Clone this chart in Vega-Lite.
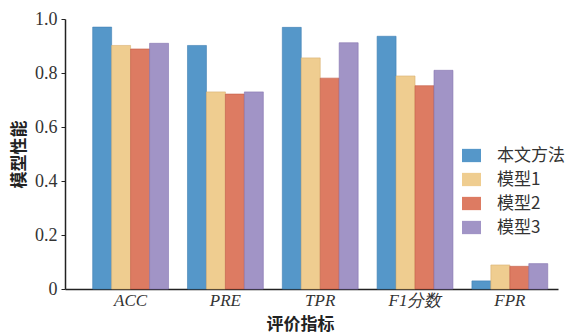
{
  "$schema": "https://vega.github.io/schema/vega-lite/v6.json",
  "width": 493,
  "height": 270,
  "autosize": {"type": "none"},
  "padding": {"left": 65, "top": 19, "right": 13, "bottom": 46},
  "background": "white",
  "config": {"view": {"stroke": null}},
  "data": {
    "values": [
      {"metric": "ACC", "model": "本文方法", "value": 0.970},
      {"metric": "ACC", "model": "模型1", "value": 0.902},
      {"metric": "ACC", "model": "模型2", "value": 0.889},
      {"metric": "ACC", "model": "模型3", "value": 0.910},
      {"metric": "PRE", "model": "本文方法", "value": 0.902},
      {"metric": "PRE", "model": "模型1", "value": 0.730},
      {"metric": "PRE", "model": "模型2", "value": 0.722},
      {"metric": "PRE", "model": "模型3", "value": 0.730},
      {"metric": "TPR", "model": "本文方法", "value": 0.969},
      {"metric": "TPR", "model": "模型1", "value": 0.856},
      {"metric": "TPR", "model": "模型2", "value": 0.781},
      {"metric": "TPR", "model": "模型3", "value": 0.912},
      {"metric": "F1分数", "model": "本文方法", "value": 0.936},
      {"metric": "F1分数", "model": "模型1", "value": 0.789},
      {"metric": "F1分数", "model": "模型2", "value": 0.753},
      {"metric": "F1分数", "model": "模型3", "value": 0.810},
      {"metric": "FPR", "model": "本文方法", "value": 0.030},
      {"metric": "FPR", "model": "模型1", "value": 0.089},
      {"metric": "FPR", "model": "模型2", "value": 0.084},
      {"metric": "FPR", "model": "模型3", "value": 0.094}
    ]
  },
  "mark": {"type": "bar", "strokeWidth": 0.6},
  "encoding": {
    "x": {
      "field": "metric",
      "type": "nominal",
      "sort": ["ACC", "PRE", "TPR", "F1分数", "FPR"],
      "scale": {"paddingInner": 0.2, "paddingOuter": 0.2, "align": 0.73},
      "axis": {
        "title": "评价指标",
        "titleFont": "Noto Sans CJK SC",
        "titleFontWeight": "bold",
        "titleFontSize": 17,
        "titleColor": "#222",
        "titleBaseline": "top",
        "titleY": 27,
        "titleX": 235,
        "labelAngle": 0,
        "labelFont": "Liberation Serif",
        "labelFontStyle": "italic",
        "labelFontSize": 17,
        "labelColor": "#333",
        "labelPadding": 3,
        "ticks": false,
        "domainColor": "#222",
        "domainWidth": 1.5
      }
    },
    "xOffset": {
      "field": "model",
      "type": "nominal",
      "scale": {"paddingInner": 0, "paddingOuter": 0}
    },
    "y": {
      "field": "value",
      "type": "quantitative",
      "scale": {"domain": [0, 1], "nice": false},
      "axis": {
        "title": "模型性能",
        "titleFont": "Noto Sans CJK SC",
        "titleFontWeight": "bold",
        "titleFontSize": 17,
        "titleColor": "#222",
        "titlePadding": 6,
        "values": [0, 0.2, 0.4, 0.6, 0.8, 1.0],
        "labelExpr": "datum.value == 0 ? '0' : format(datum.value, '.1f')",
        "labelFont": "Liberation Serif",
        "labelFontSize": 18,
        "labelColor": "#333",
        "labelPadding": 4,
        "grid": false,
        "tickSize": 4,
        "tickColor": "#222",
        "domainColor": "#222",
        "domainWidth": 1.5
      }
    },
    "color": {
      "field": "model",
      "type": "nominal",
      "scale": {
        "domain": ["本文方法", "模型1", "模型2", "模型3"],
        "range": ["#5597c9", "#efcd90", "#dd7b62", "#a194c6"]
      },
      "legend": {
        "title": null,
        "orient": "none",
        "legendX": 397,
        "legendY": 127,
        "symbolType": "M-1,-0.7H1V0.7H-1Z",
        "symbolSize": 360,
        "symbolStrokeWidth": 0,
        "rowPadding": 6,
        "labelFont": "Noto Sans CJK SC",
        "labelFontSize": 17,
        "labelColor": "#333",
        "labelOffset": 16
      }
    },
    "stroke": {
      "field": "model",
      "type": "nominal",
      "scale": {
        "domain": ["本文方法", "模型1", "模型2", "模型3"],
        "range": ["#3f7fb4", "#d8b070", "#c25a45", "#8574b0"]
      },
      "legend": null
    }
  }
}
